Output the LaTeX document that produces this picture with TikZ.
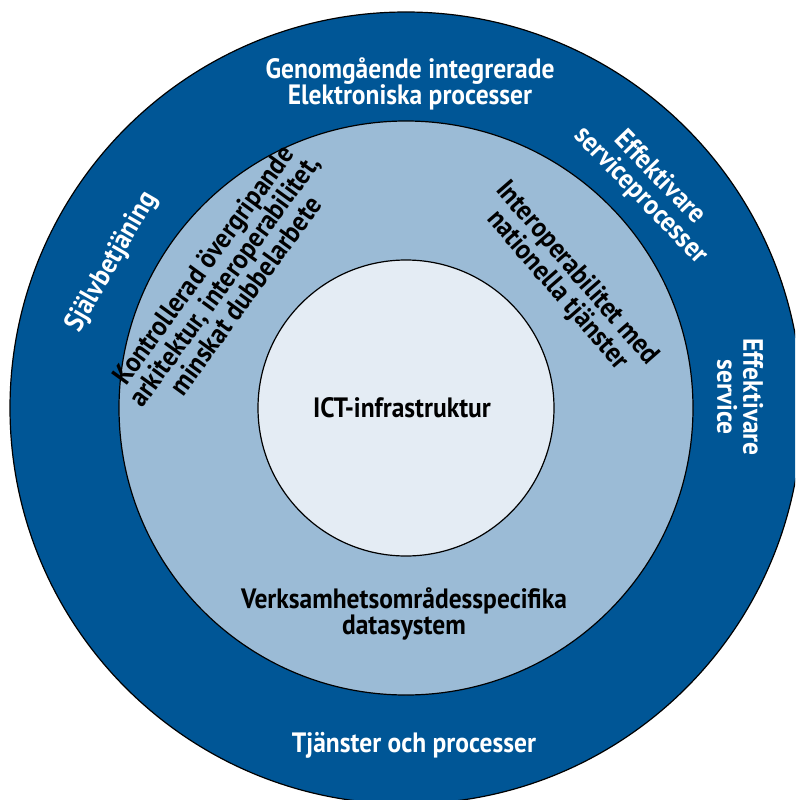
\documentclass[tikz,border=0pt]{standalone}
\usepackage{fontspec}
\setmainfont{PT Sans}[FakeStretch=0.91]
\definecolor{darkblue}{HTML}{005696}
\definecolor{midblue}{HTML}{9BBBD6}
\definecolor{paleblue}{HTML}{E4ECF4}
\tikzset{
  ring/.style={draw=black, line width=1.2pt},
  lbl/.style={font=\bfseries\fontsize{28}{26}\selectfont, align=center, inner sep=0pt},
  wlbl/.style={lbl, text=white},
  blbl/.style={lbl, text=black}
}
\begin{document}
\begin{tikzpicture}[x=1pt,y=-1pt]
\useasboundingbox (0,0) rectangle (795,800);
\clip (0,0) rectangle (795,800);
\fill[white] (0,0) rectangle (795,800);
\coordinate (c) at (406,408);
\filldraw[ring, fill=darkblue] (c) circle[radius=396pt];
\filldraw[ring, fill=midblue] (c) circle[radius=287pt];
\filldraw[ring, fill=paleblue] (c) circle[radius=148pt];
\node[wlbl] (top) at (410,84) {Genomgående integrerade\\Elektroniska processer};
\node[wlbl] (bottom) at (414,745) {Tjänster och processer};
\node[blbl] (verks) at (404,614) {Verksamhetsområdesspecifika\\datasystem};
\node[blbl] (ict) at (402,408) {ICT-infrastruktur};
\node[wlbl, rotate=60] (sjalv) at (112,262) {Självbetjäning};
\node[blbl, rotate=54] (kontr) at (224,280) {Kontrollerad övergripande\\arkitektur, interoperabilitet,\\minskat dubbelarbete};
\node[blbl, rotate=-49] (inter) at (567,282) {Interoperabilitet med\\nationella tjänster};
\node[wlbl, rotate=-46] (effproc) at (650,187) {Effektivare\\serviceprocesser};
\node[wlbl, rotate=-90] (effserv) at (740,397) {Effektivare\\service};
\end{tikzpicture}
\end{document}
